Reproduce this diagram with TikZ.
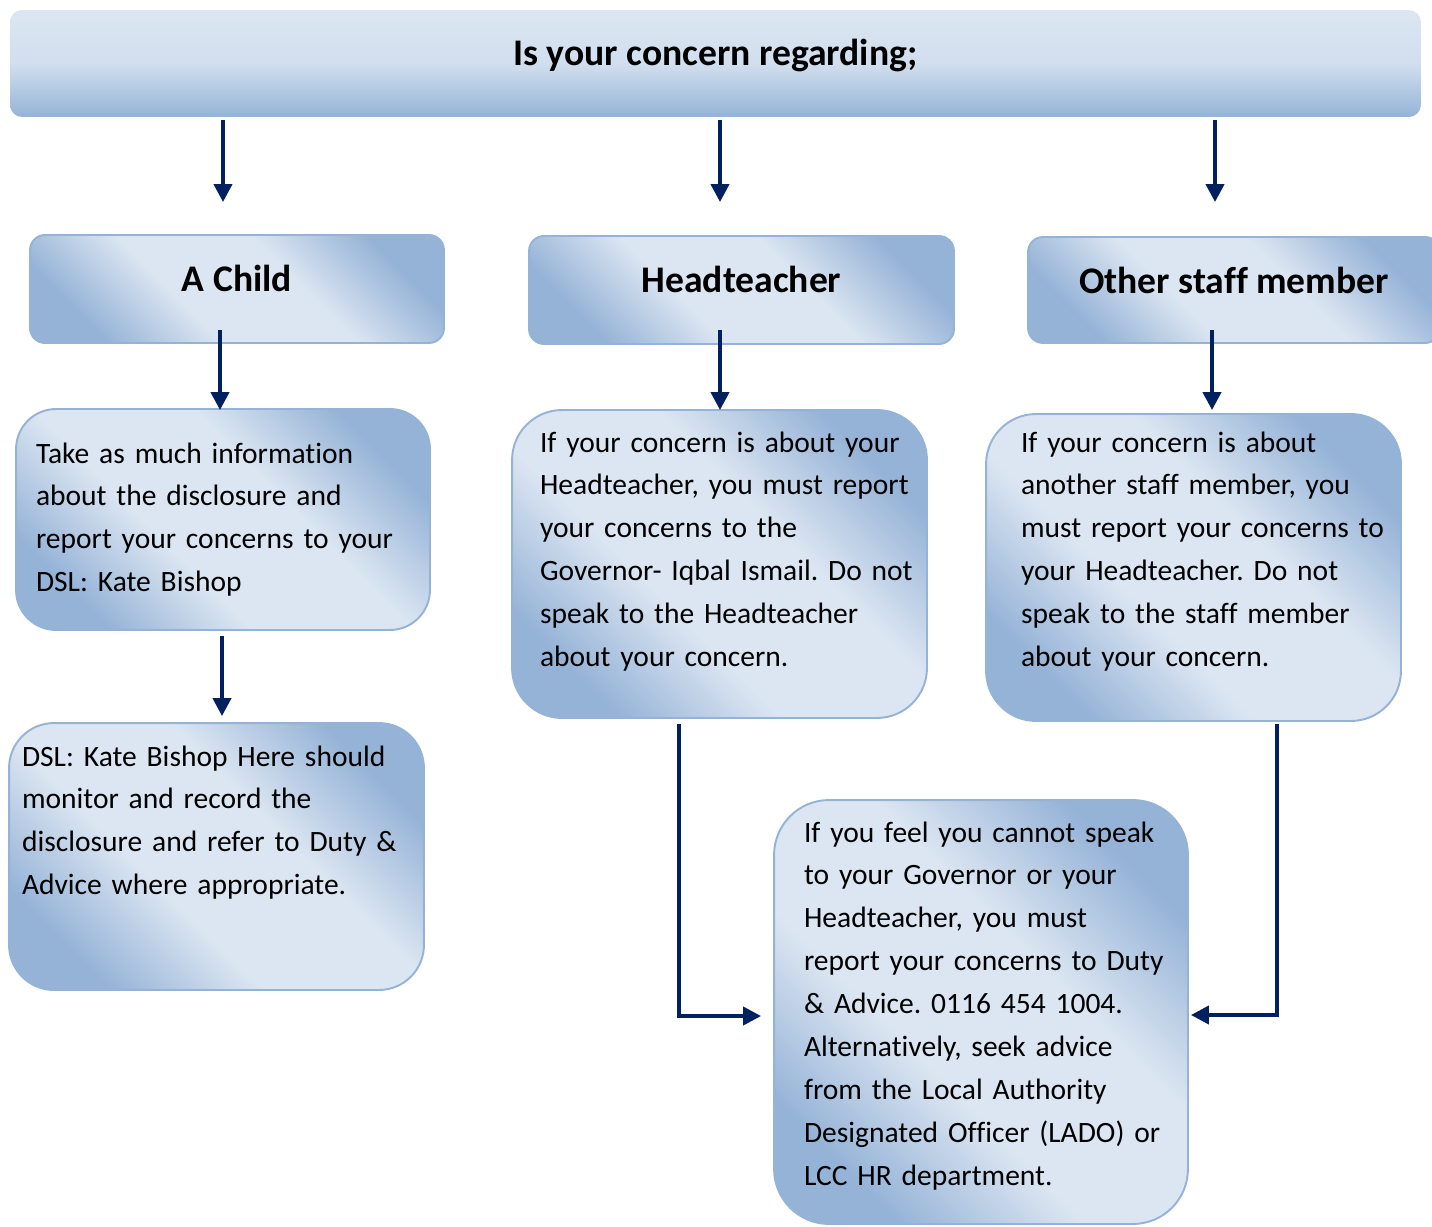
\documentclass[tikz,border=0pt]{standalone}
\usepackage{fontspec}
\setmainfont{Carlito}[Ligatures=NoCommon]
\usepackage{xcolor}
\usepackage{tikz}
\usetikzlibrary{shapes,arrows,positioning,calc,arrows.meta}
\frenchspacing

\definecolor{boxlight}{HTML}{DCE6F2}
\definecolor{boxdark}{HTML}{95B3D7}
\definecolor{boxline}{HTML}{95B3D7}
\definecolor{flownavy}{HTML}{002060}

\pgfdeclareverticalshading{boxshade}{100bp}{color(0bp)=(boxdark); color(25bp)=(boxdark);
  color(41bp)=(boxlight); color(59bp)=(boxlight); color(75bp)=(boxdark); color(100bp)=(boxdark)}

\newcommand{\bodyfont}{\fontsize{16.8}{24.4}\selectfont}
\newcommand{\headfont}{\fontsize{21.4}{25}\selectfont\bfseries}

\tikzset{
  titlebox/.style={rectangle, rounded corners=0.24cm, inner sep=0pt,
    top color=boxlight, bottom color=boxdark, middle color=boxlight!85!boxdark,
    font=\headfont, align=center},
  headbox/.style={rectangle, rounded corners=0.3cm, draw=boxline, line width=1.1pt,
    inner sep=0pt, shading=boxshade, shading angle=-45, font=\headfont, align=center},
  infobox/.style={rectangle, rounded corners=#1, draw=boxline, line width=1.1pt,
    inner sep=0pt, shading=boxshade, shading angle=-45, font=\bodyfont, align=left},
  flow/.style={draw=flownavy, line width=0.08cm, -{Triangle[width=0.36cm,length=0.36cm]}}
}

\begin{document}
\begin{tikzpicture}[x=0.02cm, y=-0.02cm]
    \useasboundingbox (0,0) rectangle (1432,1226);

    % Question
    \node[titlebox, minimum width=28.22cm, text height=1.12cm, text depth=1.02cm] (top) at (715.5,63.5) {Is your concern regarding;};

    % Who
    \node[headbox, minimum width=8.28cm, text height=1.14cm, text depth=1.02cm] (achild) at (237,289) {A Child};
    \node[headbox, minimum width=8.5cm, text height=1.14cm, text depth=1.02cm] (headt) at (741.5,290) {Headteacher};
    \node[headbox, minimum width=8.24cm, text height=1.14cm, text depth=0.98cm] (other) at (1234,290) {Other staff member};

    % What to do
    \node[infobox=0.8cm, text width=8.28cm, text height=1.08cm, text depth=3.34cm] (take) at (223,519.5)
        {\leftskip=0.4cm Take as much information\\ about the disclosure and\\ report your concerns to your\\ DSL: Kate Bishop\par};
    \node[infobox=1cm, text width=8.3cm, text height=0.84cm, text depth=5.32cm] (htinfo) at (719.5,564)
        {\leftskip=0.56cm If your concern is about your\\ Headteacher, you must report\\ your concerns to the\\ Governor- Iqbal Ismail. Do not\\ speak to the Headteacher\\ about your concern.\par};
    \node[infobox=1cm, text width=8.3cm, text height=0.76cm, text depth=5.38cm] (otinfo) at (1193.5,567.5)
        {\leftskip=0.7cm If your concern is about\\ another staff member, you\\ must report your concerns to\\ your Headteacher. Do not\\ speak to the staff member\\ about your concern.\par};
    \node[infobox=0.9cm, text width=8.3cm, text height=0.86cm, text depth=4.48cm] (dsl) at (216.5,856.5)
        {\leftskip=0.26cm DSL: Kate Bishop Here should\\ monitor and record the\\ disclosure and refer to Duty \&\\ Advice where appropriate.\par};
    \node[infobox=1.1cm, text width=8.28cm, text height=0.84cm, text depth=7.64cm] (bottom) at (981,1012)
        {\leftskip=0.6cm If you feel you cannot speak\\ to your Governor or your\\ Headteacher, you must\\ report your concerns to Duty\\ \& Advice. 0116 454 1004.\\ Alternatively, seek advice\\ from the Local Authority\\ Designated Officer (LADO) or\\ LCC HR department.\par};

    % Arrows
    \draw[flow] ($(top.south -| achild.north)+(-14,3)$) -- ($(achild.north)+(-14,-32)$);
    \draw[flow] ($(top.south -| headt.north)+(-21.5,3)$) -- ($(headt.north)+(-21.5,-33)$);
    \draw[flow] ($(top.south -| other.north)+(-19,3)$) -- ($(other.north)+(-19,-34)$);
    \draw[flow] ($(achild.south)+(-17,-14)$) -- ($(achild.south |- take.north)+(-17,2)$);
    \draw[flow] ($(headt.south)+(-21.5,-15)$) -- ($(headt.south |- htinfo.north)+(-21.5,1)$);
    \draw[flow] ($(other.south)+(-22,-14)$) -- ($(other.south |- otinfo.north)+(-22,-3)$);
    \draw[flow] ($(take.south)+(-1,5)$) -- ($(take.south |- dsl.north)+(-1,-6)$);
    \draw[flow] ($(htinfo.south)+(-40.5,5)$) |- ($(bottom.west)+(-12,4)$);
    \draw[flow] ($(otinfo.south)+(83.5,2)$) |- ($(bottom.east)+(2,3)$);
\end{tikzpicture}
\end{document}
